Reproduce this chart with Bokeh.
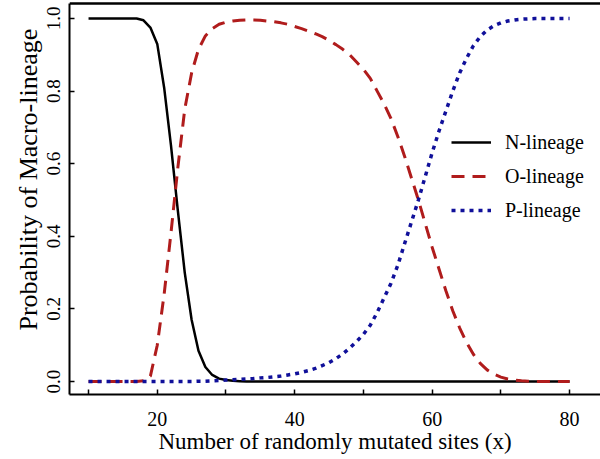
from bokeh.plotting import figure
from bokeh.models import Range1d, FixedTicker, Legend, LegendItem, PrintfTickFormatter, Title, Span
from bokeh.embed import file_html
from bokeh.resources import INLINE

# Number of randomly mutated sites
sites = list(range(10, 81))

# Probability of each macro-lineage at every site count
n_lineage = [1.0] * 8 + [
    0.995, 0.975, 0.93, 0.81, 0.65, 0.47, 0.30, 0.17, 0.085, 0.04,
    0.018, 0.008, 0.004, 0.002, 0.001,
] + [0.0] * 48

o_lineage = [0.0] * 8 + [
    0.002, 0.015, 0.10, 0.24, 0.41, 0.59, 0.75, 0.85, 0.915, 0.952,
    0.972, 0.984, 0.99, 0.993, 0.995, 0.996, 0.996, 0.995, 0.993, 0.991,
    0.988, 0.984, 0.978, 0.972, 0.965, 0.958, 0.950, 0.94, 0.928, 0.915,
    0.90, 0.88, 0.86, 0.835, 0.80, 0.765, 0.725, 0.675, 0.62, 0.56,
    0.50, 0.435, 0.37, 0.31, 0.25, 0.195, 0.148, 0.108, 0.075, 0.05,
    0.032, 0.02, 0.012, 0.007, 0.004, 0.002, 0.001,
] + [0.0] * 6

p_lineage = [0.0] * 16 + [
    0.001, 0.001, 0.002, 0.003, 0.004, 0.005, 0.006, 0.007, 0.008, 0.01,
    0.011, 0.013, 0.015, 0.018, 0.021, 0.025, 0.03, 0.036, 0.044, 0.052,
    0.063, 0.076, 0.092, 0.11, 0.13, 0.155, 0.19, 0.23, 0.27, 0.32,
    0.38, 0.44, 0.50, 0.565, 0.63, 0.69, 0.745, 0.80, 0.85, 0.89,
    0.925, 0.95, 0.968, 0.98, 0.988, 0.993, 0.996, 0.998, 0.999,
] + [1.0] * 6

x_ticks = [10, 20, 30, 40, 50, 60, 70, 80]
x_tick_labels = {10: "", 20: "20", 30: "", 40: "40", 50: "", 60: "60", 70: "", 80: "80"}
y_ticks = [0.0, 0.2, 0.4, 0.6, 0.8, 1.0]

series_names = ["N-lineage", "O-lineage", "P-lineage"]
y_title = "Probability of Macro-lineage"
x_title = "Number of randomly mutated sites (x)"

FONT = "'Liberation Serif', 'Times New Roman', serif"
BOX_TOP = 1.0413                 # top edge of the box, in y units
Y_END = BOX_TOP + 3.0 / 363.0    # small white strip above the box line

p = figure(
    width=600, height=459,
    output_backend="svg", toolbar_location=None,
    x_range=Range1d(7.23, 84.5), y_range=Range1d(-0.0358, Y_END),
    min_border_left=69, min_border_right=0, min_border_top=0, min_border_bottom=65,
    background_fill_color="white", border_fill_color="white",
)
p.outline_line_color = None
p.grid.visible = False

# axes: box-style lines with inward ticks
for ax in (p.xaxis[0], p.yaxis[0]):
    ax.axis_line_color = "black"
    ax.axis_line_width = 2
    ax.major_tick_in = 5
    ax.major_tick_out = 0
    ax.major_tick_line_width = 1.5
    ax.minor_tick_line_color = None
    ax.major_label_text_font = FONT
    ax.major_label_text_color = "black"
    ax.axis_label_text_font = FONT
    ax.axis_label_text_font_style = "normal"
    ax.axis_label_text_color = "black"

p.xaxis.ticker = FixedTicker(ticks=x_ticks)
p.xaxis.major_label_overrides = x_tick_labels
p.xaxis.major_label_text_font_size = "20px"
p.xaxis.major_label_standoff = 17
p.xaxis.axis_label = x_title
p.xaxis.axis_label_text_font_size = "23px"
p.xaxis.axis_label_standoff = 0

p.yaxis.ticker = FixedTicker(ticks=y_ticks)
p.yaxis.formatter = PrintfTickFormatter(format="%.1f")
p.yaxis.major_label_orientation = "vertical"
p.yaxis.major_label_text_font_size = "19px"
p.yaxis.major_label_standoff = 9
p.yaxis.bounds = (-0.0358, BOX_TOP)

# top edge of the box, drawn as a line glyph across the full x range
p.line(x=[p.x_range.start, p.x_range.end], y=[BOX_TOP, BOX_TOP],
       line_color="black", line_width=2.5)

# y title as a side title so it can sit a little above the frame centre
p.add_layout(Title(text=y_title, align="left", offset=64, standoff=2,
                   vertical_align="middle",
                   text_font=FONT, text_font_size="26px", text_font_style="normal",
                   text_color="black"), "left")

r_n = p.line(sites, n_lineage, line_color="black", line_width=2.5)
r_o = p.line(sites, o_lineage, line_color="#B01C1C", line_width=3, line_dash="13 8")
r_p = p.line(sites, p_lineage, line_color="#10109A", line_width=3.5, line_dash="4 5")

legend = Legend(
    items=[LegendItem(label=series_names[0], renderers=[r_n]),
           LegendItem(label=series_names[1], renderers=[r_o]),
           LegendItem(label=series_names[2], renderers=[r_p])],
    location=(382, 169),
    border_line_color=None, background_fill_alpha=0,
    glyph_width=40, glyph_height=30, label_height=30, spacing=4,
    label_standoff=14, padding=10, margin=0,
    label_text_font=FONT, label_text_font_size="20px", label_text_color="black",
)
p.add_layout(legend)

open("out.html", "w").write(file_html(p, INLINE))
